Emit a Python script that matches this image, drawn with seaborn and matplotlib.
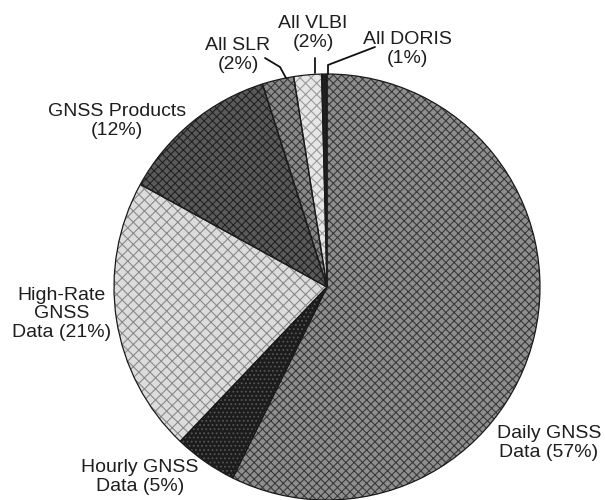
import matplotlib
matplotlib.use("Agg")
import matplotlib.pyplot as plt
import seaborn as sns

# ---- data ----
categories = ["Daily GNSS Data", "Hourly GNSS Data", "High-Rate GNSS Data",
              "GNSS Products", "All SLR", "All VLBI", "All DORIS"]
shares = [57.3, 4.8, 20.9, 12.1, 2.4, 2.1, 0.4]
labels = ["Daily GNSS\nData (57%)", "Hourly GNSS\nData (5%)", "High-Rate\nGNSS\nData (21%)",
          "GNSS Products\n(12%)", "All SLR\n(2%)", "All VLBI\n(2%)", "All DORIS\n(1%)"]

sns.set_theme(style="white")
plt.rcParams['font.family'] = ['Liberation Sans', 'DejaVu Sans']

face_colors = ["#8e8e8e", "#1c1c1c", "#dcdcdc", "#5a5a5a", "#8a8a8a", "#e6e6e6", "#202020"]
hatch_colors = ["#3a3a3a", "#555555", "#8a8a8a", "#222222", "#3a3a3a", "#9a9a9a", "#000000"]
hatches = ["xxxx", "....", "xxx", "xxxx", "xxxx", "xxx", ""]

W, H = 605, 500
CX, CY, R = 327, 287, 213

fig = plt.figure(figsize=(W / 100, H / 100), dpi=100)
ax = fig.add_axes([0, 0, 1, 1])


def px(x, y):
    return ((x - CX) / R, (CY - y) / R)


plt.rcParams['hatch.linewidth'] = 0.8
w1, _ = ax.pie(shares, startangle=90, counterclock=False, radius=1,
               colors=face_colors, wedgeprops=dict(linewidth=0))
for w, hc, ht in zip(w1, hatch_colors, hatches):
    w.set_hatch(ht)
    w.set_edgecolor(hc)
    w.set_linewidth(0)
w2, _ = ax.pie(shares, startangle=90, counterclock=False, radius=1,
               wedgeprops=dict(facecolor="none", edgecolor="#1a1a1a", linewidth=0.9))

label_pos = [(549, 443), (140, 477), (62, 314), (117, 121), (238, 55), (313, 33), (407, 49)]
for lab, (x, y) in zip(labels, label_pos):
    ax.text(*px(x, y), lab, ha="center", va="center", fontsize=14,
            color="#1e1e1e", linespacing=1.08)

# leader lines for the small slices
ax.plot(*zip(px(265, 58), px(280, 67), px(286, 78)), color="#111111", lw=1.3)
ax.plot(*zip(px(315, 58), px(315, 73)), color="#111111", lw=1.3)
ax.plot(*zip(px(375, 47), px(328, 65), px(328, 74)), color="#111111", lw=1.3)

ax.set_aspect("equal")
ax.set_xlim((0 - CX) / R, (W - CX) / R)
ax.set_ylim((CY - H) / R, CY / R)
ax.axis("off")

fig.savefig("out.png", dpi=100)
